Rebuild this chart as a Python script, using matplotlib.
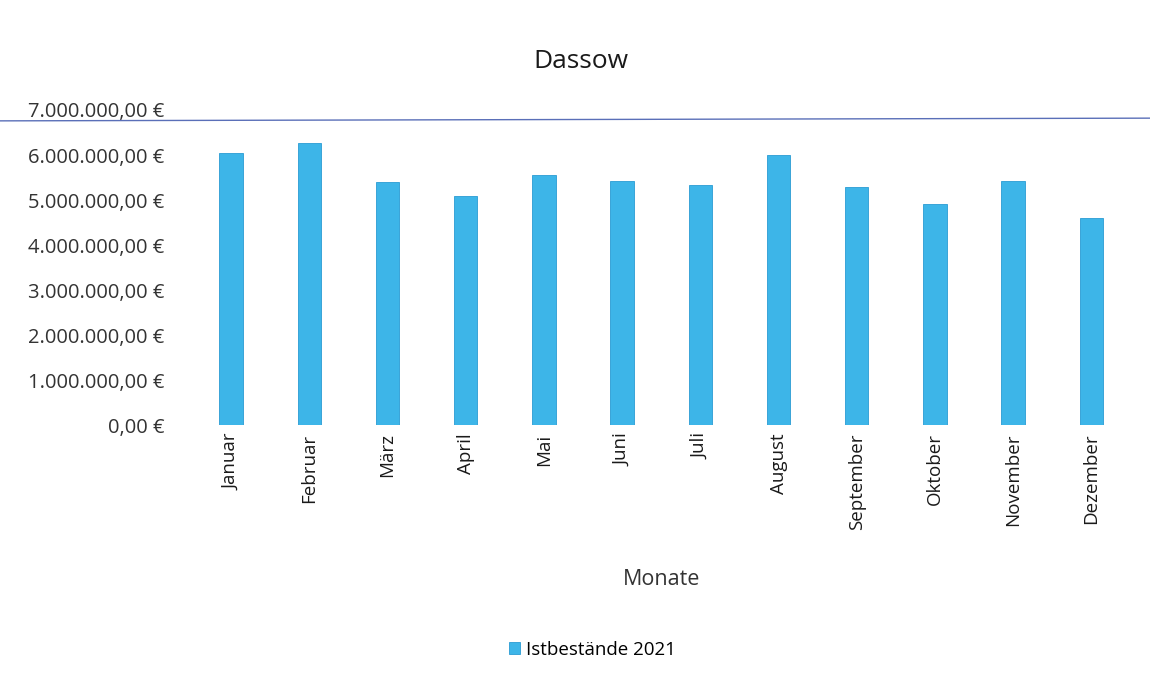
import matplotlib.pyplot as plt
from matplotlib.lines import Line2D
from matplotlib.ticker import FuncFormatter

months = ["Januar", "Februar", "März", "April", "Mai", "Juni", "Juli",
          "August", "September", "Oktober", "November", "Dezember"]
istbestaende_2021 = [6040000, 6270000, 5410000, 5090000, 5560000, 5420000,
                     5330000, 6000000, 5280000, 4910000, 5420000, 4610000]

plt.rcParams["font.family"] = ["Open Sans", "DejaVu Sans"]


def euro(v, pos):
    s = f"{v:,.2f}".replace(",", "X").replace(".", ",").replace("X", ".")
    return f"{s} €"


fig = plt.figure(figsize=(11.5, 6.79), dpi=100)
ax = fig.add_axes([0.167, 0.374, 0.816, 0.464])

x = range(len(months))
ax.bar(x, istbestaende_2021, width=0.3, color="#3DB5E8", edgecolor="#2A9BD3",
       linewidth=0.6, label="Istbestände 2021")

ax.set_xlim(-0.5, len(months) - 0.5)
ax.set_ylim(0, 7000000)
ax.set_yticks(range(0, 7000001, 1000000))
ax.yaxis.set_major_formatter(FuncFormatter(euro))
ax.set_xticks(list(x))
ax.set_xticklabels(months, rotation=90, fontsize=13.5, color="#1a1a1a")
ax.tick_params(axis="y", labelsize=14.5, labelcolor="#333333", length=0, pad=20)
ax.tick_params(axis="x", length=0, pad=6)
for s in ax.spines.values():
    s.set_visible(False)

ax.set_xlabel("Monate", fontsize=15.5, color="#333333", labelpad=28)
fig.text(0.505, 0.91, "Dassow", ha="center", va="center", fontsize=19, color="#1a1a1a")

# scanned horizontal rule near the top
fig.add_artist(Line2D([0, 1], [0.822, 0.826], transform=fig.transFigure,
                      color="#5a6fb8", linewidth=1.0))

ax.legend(loc="center", bbox_to_anchor=(0.515, 0.043), bbox_transform=fig.transFigure,
          frameon=False, fontsize=13.5, handlelength=0.6, handleheight=0.6,
          handletextpad=0.3)

fig.savefig("out.png", dpi=100, facecolor="white")
